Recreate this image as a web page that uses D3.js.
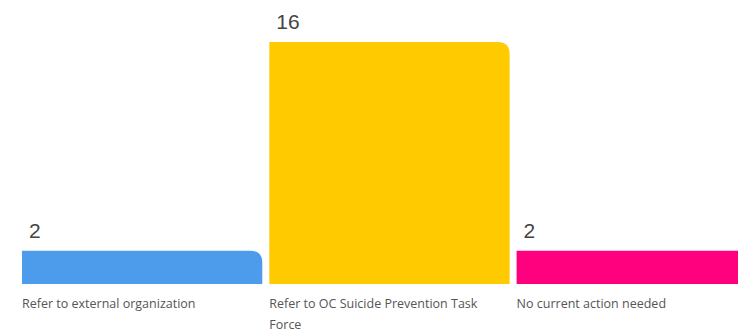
<!DOCTYPE html>
<html>
<head>
<meta charset="utf-8">
<script src="https://cdn.jsdelivr.net/npm/d3@7"></script>
<style>
  html, body { margin: 0; padding: 0; background: #fff; overflow: hidden; }
  svg { display: block; }
</style>
</head>
<body>
<div id="chart"></div>
<script>
// Chart data
var categories = [
  "Refer to external organization",
  "Refer to OC Suicide Prevention Task Force",
  "No current action needed"
];
var values = [2, 16, 2];
var colors = ["#4d9beb", "#ffcb00", "#ff007f"];

var width = 738, height = 331;
var margin = { top: 42, right: 0, bottom: 47, left: 22 };
var radius = 12;
var barW = 240.3, gap = 7;

var svg = d3.select("#chart")
  .append("svg")
  .attr("width", width)
  .attr("height", height);

// band scale runs past the right edge, third bar gets clipped like the original
var x = d3.scaleBand()
  .domain(categories)
  .range([margin.left, margin.left + barW * 3 + gap * 2])
  .paddingInner(gap / (barW + gap))
  .paddingOuter(0);

var y = d3.scaleLinear()
  .domain([-0.23, d3.max(values)])
  .range([height - margin.bottom, margin.top]);

// bar with only the top-right corner rounded
function barPath(x0, y0, w, h, r) {
  r = Math.min(r, h, w);
  return "M" + x0 + "," + (y0 + h) +
    "V" + y0 +
    "H" + (x0 + w - r) +
    "Q" + (x0 + w) + "," + y0 + " " + (x0 + w) + "," + (y0 + r) +
    "V" + (y0 + h) + "Z";
}

var bars = svg.selectAll(".bar")
  .data(values)
  .enter()
  .append("g")
  .attr("class", "bar");

bars.append("path")
  .attr("d", function (d, i) {
    var bx = x(categories[i]);
    return barPath(bx, y(d), x.bandwidth(), y(-0.23) - y(d), radius);
  })
  .style("fill", function (d, i) { return colors[i]; });

// value labels above bars
bars.append("text")
  .attr("x", function (d, i) { return x(categories[i]) + 7; })
  .attr("y", function (d) { return y(d) - 13; })
  .style("font-family", "'Liberation Sans', Arial, sans-serif")
  .style("font-size", "21px")
  .style("fill", "#444")
  .text(function (d) { return d; });

// category labels, wrapped to bar width
bars.append("text")
  .attr("class", "cat")
  .attr("x", function (d, i) { return x(categories[i]); })
  .attr("y", height - margin.bottom + 24)
  .style("font-family", "'Open Sans', sans-serif")
  .style("font-size", "12.5px")
  .style("fill", "#555")
  .each(function (d, i) {
    var el = d3.select(this);
    var words = categories[i].split(" ");
    var line = [];
    var tspan = el.append("tspan").attr("x", x(categories[i])).attr("dy", 0);
    words.forEach(function (w) {
      line.push(w);
      tspan.text(line.join(" "));
      if (tspan.node().getComputedTextLength() > x.bandwidth() - 10 && line.length > 1) {
        line.pop();
        tspan.text(line.join(" "));
        line = [w];
        tspan = el.append("tspan")
          .attr("x", x(categories[i]))
          .attr("dy", "21px")
          .text(w);
      }
    });
  });
</script>
</body>
</html>
